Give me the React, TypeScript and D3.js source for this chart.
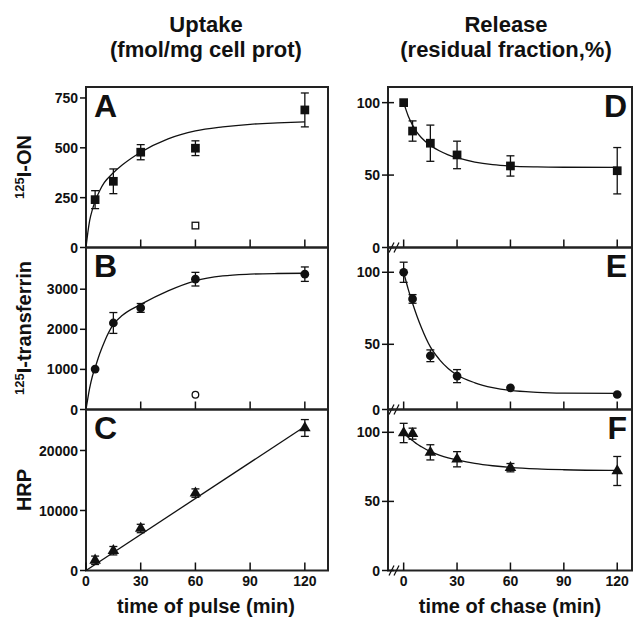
import React from 'react';
import * as d3 from 'd3';

const font = '"Liberation Sans", Arial, Helvetica, sans-serif';
const ink = '#111';

// uptake (pulse)
const pulseTimes = [5, 15, 30, 60, 120];
const onUptake = [240, 332, 478, 498, 690];
const onUptakeErr = [45, 62, 38, 37, 85];
const onCtrlTimes = [60];
const onCtrlValues = [110];
const tfUptake = [1008, 2158, 2533, 3250, 3375];
const tfUptakeErr = [0, 260, 110, 170, 180];
const tfCtrlTimes = [60];
const tfCtrlValues = [368];
const hrpUptake = [1700, 3300, 7000, 12900, 23750];
const hrpUptakeErr = [700, 700, 700, 700, 1400];

// release (chase)
const chaseTimes = [0, 5, 15, 30, 60, 120];
const onRelease = [100, 80.4, 72, 63.9, 56.3, 53];
const onReleaseErr = [0, 7, 12.5, 9.5, 7, 16];
const tfRelease = [100, 81.5, 41.2, 25.6, 16.6, 11.5];
const tfReleaseErr = [7, 3, 4.5, 5, 0, 0];
const hrpRelease = [99.5, 99, 85.5, 80.5, 74.4, 72];
const hrpReleaseErr = [7, 4, 5.5, 5.5, 3, 10.5];

// fitted curves
const pulseFitTimes = [0, 1, 2, 3.5, 5, 7.5, 10, 15, 20, 30, 45, 60, 75, 90, 105, 120];
const onUptakeFit = [0, 75, 135, 190, 232, 285, 325, 375, 415, 478, 545, 585, 605, 618, 625, 630];
const tfUptakeFit = [0, 280, 530, 830, 1040, 1390, 1680, 2120, 2350, 2620, 2960, 3210, 3330, 3375, 3392, 3398];
const hrpFitTimes = [0, 120];
const hrpUptakeFit = [0, 24000];

const chaseFitTimes = [0, 2.5, 5, 7.5, 10, 15, 20, 25, 30, 40, 50, 60, 75, 90, 120];
const onReleaseFit = [100, 91, 84.5, 79.5, 75.8, 70.5, 66.8, 64, 62, 59, 57.2, 56.2, 55.6, 55.4, 55.3];
const tfReleaseFit = [100, 88.5, 78.5, 69.5, 61.5, 48, 38.5, 31.5, 26.5, 20.5, 16.8, 14.6, 13.2, 12.6, 12.3];
const hrpReleaseFit = [99.5, 96.5, 94, 91.5, 89.5, 86, 83.5, 81.5, 80, 77.5, 75.8, 74.6, 73.5, 72.9, 72.4];

const timeTicks = [0, 30, 60, 90, 120];
const onTicks = [0, 250, 500, 750];
const tfTicks = [0, 1000, 2000, 3000];
const hrpTicks = [0, 10000, 20000];
const pctTicks = [0, 50, 100];

const rows = [[87, 247.5], [247.5, 409.5], [409.5, 570.5]];

const xL = d3.scaleLinear().domain([0, 132.7]).range([86, 328]);
const xR = d3.scaleLinear().domain([-8.8, 128.3]).range([388, 632]);

const symbols = {
  square: d3.symbol().type(d3.symbolSquare).size(76),
  circle: d3.symbol().type(d3.symbolCircle).size(60),
  triangle: d3.symbol().type(d3.symbolTriangle).size(58),
};

function Panel(p) {
  const { x, y, row, times, values, errs, fitT, fitV, marker, letter, right, ticks, ctrlT, ctrlV, ctrlType, showX } = p;
  const [top, bottom] = rows[row];
  const [x0, x1] = x.range();
  const line = d3.line().x(d => x(d[0])).y(d => y(d[1])).curve(d3.curveMonotoneX);
  const fit = fitT.map((t, i) => [t, fitV[i]]);
  const sym = symbols[marker]();
  return (
    <g>
      <rect x={x0} y={top} width={x1 - x0} height={bottom - top} fill="none" stroke="#222" strokeWidth={2} />
      {timeTicks.map(t => (
        <line key={'xt' + t} x1={x(t)} x2={x(t)} y1={bottom} y2={bottom - 8} stroke={ink} strokeWidth={1.5} />
      ))}
      {showX && timeTicks.map(t => (
        <text key={'xl' + t} x={x(t)} y={bottom + 15.5} textAnchor="middle" fontSize={14} fontWeight="bold">{t}</text>
      ))}
      {ticks.map(v => (
        <g key={'yt' + v}>
          <line x1={x0 - 6} x2={right ? x0 + 6 : x0} y1={y(v)} y2={y(v)} stroke={ink} strokeWidth={1.5} />
          <text x={x0 - 8} y={y(v)} dy="0.36em" textAnchor="end" fontSize={14} fontWeight="bold">{v}</text>
        </g>
      ))}
      {right && (
        <g stroke={ink} strokeWidth={1.3}>
          <line x1={389} y1={bottom + 5} x2={394} y2={bottom - 5} />
          <line x1={394} y1={bottom + 5} x2={399} y2={bottom - 5} />
        </g>
      )}
      <path d={line(fit)} fill="none" stroke={ink} strokeWidth={1.3} />
      {times.map((t, i) => errs[i] > 0 && (
        <g key={'e' + i} stroke={ink} strokeWidth={1.3}>
          <line x1={x(t)} x2={x(t)} y1={y(values[i] - errs[i])} y2={y(values[i] + errs[i])} />
          <line x1={x(t) - 4} x2={x(t) + 4} y1={y(values[i] - errs[i])} y2={y(values[i] - errs[i])} />
          <line x1={x(t) - 4} x2={x(t) + 4} y1={y(values[i] + errs[i])} y2={y(values[i] + errs[i])} />
        </g>
      ))}
      {times.map((t, i) => (
        <path key={'m' + i} d={sym} transform={`translate(${x(t)},${y(values[i])})`} fill={ink} />
      ))}
      {ctrlT && ctrlT.map((t, i) => ctrlType === 'square' ? (
        <rect key={'c' + i} x={x(t) - 3.3} y={y(ctrlV[i]) - 3.3} width={6.6} height={6.6} fill="#fff" stroke={ink} strokeWidth={1.3} />
      ) : (
        <circle key={'c' + i} cx={x(t)} cy={y(ctrlV[i])} r={3.3} fill="#fff" stroke={ink} strokeWidth={1.3} />
      ))}
      <text x={right ? 627 : 94} y={top + 29.5} textAnchor={right ? 'end' : 'start'} fontSize={32} fontWeight="bold">{letter}</text>
    </g>
  );
}

export default function App() {
  const yA = d3.scaleLinear().domain([0, 805]).range([247.5, 87]);
  const yB = d3.scaleLinear().domain([0, 4040]).range([409.5, 247.5]);
  const yC = d3.scaleLinear().domain([0, 26830]).range([570.5, 409.5]);
  const yD = d3.scaleLinear().domain([0, 110.8]).range([247.5, 87]);
  const yE = d3.scaleLinear().domain([0, 50, 117.2]).range([409.5, 344.3, 247.5]);
  const yF = d3.scaleLinear().domain([0, 116.5]).range([570.5, 409.5]);

  const yLabel = (cy, sup, main) => (
    <text transform={`translate(31,${cy}) rotate(-90)`} textAnchor="middle" fontWeight="bold" fontSize={20}>
      {sup && <tspan fontSize={13} dy={-7}>{sup}</tspan>}
      <tspan dy={sup ? 7 : 0}>{main}</tspan>
    </text>
  );

  return (
    <svg width={633} height={619} style={{ position: 'absolute', left: 0, top: 0, background: '#fff' }}
      fontFamily={font} fill={ink}>
      <rect width={633} height={619} fill="#fff" />
      <g fontSize={22} fontWeight="bold" textAnchor="middle">
        <text x={206} y={32}>Uptake</text>
        <text x={206} y={57}>(fmol/mg cell prot)</text>
        <text x={506} y={32}>Release</text>
        <text x={506} y={57}>(residual fraction,%)</text>
      </g>
      {yLabel(167, '125', 'I-ON')}
      {yLabel(328, '125', 'I-transferrin')}
      {yLabel(490, null, 'HRP')}

      <Panel x={xL} y={yA} row={0} times={pulseTimes} values={onUptake} errs={onUptakeErr}
        fitT={pulseFitTimes} fitV={onUptakeFit} marker="square" letter="A" ticks={onTicks}
        ctrlT={onCtrlTimes} ctrlV={onCtrlValues} ctrlType="square" />
      <Panel x={xL} y={yB} row={1} times={pulseTimes} values={tfUptake} errs={tfUptakeErr}
        fitT={pulseFitTimes} fitV={tfUptakeFit} marker="circle" letter="B" ticks={tfTicks}
        ctrlT={tfCtrlTimes} ctrlV={tfCtrlValues} ctrlType="circle" />
      <Panel x={xL} y={yC} row={2} times={pulseTimes} values={hrpUptake} errs={hrpUptakeErr}
        fitT={hrpFitTimes} fitV={hrpUptakeFit} marker="triangle" letter="C" ticks={hrpTicks} showX />

      <Panel x={xR} y={yD} row={0} times={chaseTimes} values={onRelease} errs={onReleaseErr}
        fitT={chaseFitTimes} fitV={onReleaseFit} marker="square" letter="D" ticks={pctTicks} right />
      <Panel x={xR} y={yE} row={1} times={chaseTimes} values={tfRelease} errs={tfReleaseErr}
        fitT={chaseFitTimes} fitV={tfReleaseFit} marker="circle" letter="E" ticks={pctTicks} right />
      <Panel x={xR} y={yF} row={2} times={chaseTimes} values={hrpRelease} errs={hrpReleaseErr}
        fitT={chaseFitTimes} fitV={hrpReleaseFit} marker="triangle" letter="F" ticks={pctTicks} right showX />

      <g fontSize={20} fontWeight="bold" textAnchor="middle">
        <text x={206} y={613}>time of pulse (min)</text>
        <text x={510} y={613}>time of chase (min)</text>
      </g>
    </svg>
  );
}
